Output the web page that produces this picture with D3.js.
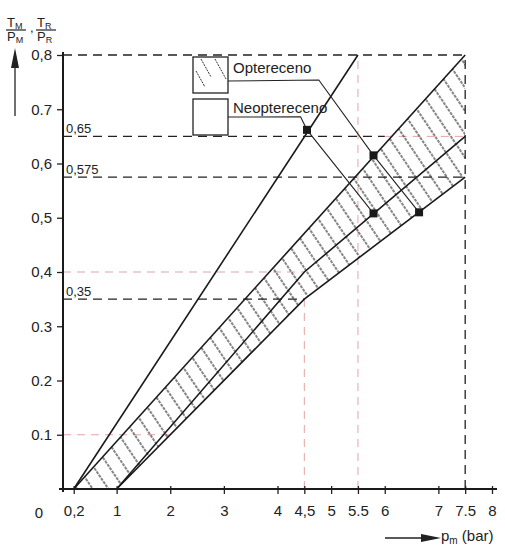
<!DOCTYPE html>
<html>
<head>
<meta charset="utf-8">
<script src="https://cdn.jsdelivr.net/npm/d3@7"></script>
<style>
body { margin: 0; background: #fff; }
text { font-family: "Liberation Sans", Arial, sans-serif; fill: #222; }
</style>
</head>
<body>
<script>
// tick values and labels as printed on the chart
var xTicks = [0.2, 1, 2, 3, 4, 4.5, 5, 5.5, 6, 7, 7.5, 8];
var xTickLabels = ["0,2", "1", "2", "3", "4", "4,5", "5", "5.5", "6", "7", "7.5", "8"];
var yTicks = [0.1, 0.2, 0.3, 0.4, 0.5, 0.6, 0.7, 0.8];
var yTickLabels = ["0.1", "0.2", "0.3", "0,4", "0,5", "0,6", "0.7", "0,8"];

// curves (p_m, T/P)
var steepLine = [[0.2, 0], [5.5, 0.8]];
var bandUpper = [[0.2, 0], [7.5, 0.8]];
var bandMiddle = [[1, 0], [4.5, 0.4], [7.5, 0.65]];
var bandLower = [[1, 0], [4.5, 0.35], [7.5, 0.575]];

// marked points and the leader lines running to them
var dots = [[4.55, 0.662], [5.79, 0.615], [5.79, 0.508], [6.64, 0.51]];
var leaderOpt = [[4.77, 0.754], [5.79, 0.615], [6.64, 0.51]];
var leaderNeo = [[4.43, 0.686], [4.55, 0.662], [5.79, 0.508]];

// reference lines: [level, from, to]
var hDashed = [[0.8, 0, 7.5], [0.65, 0, 6], [0.575, 0, 7.5], [0.35, 0, 4.5]];
var vDashed = [[7.5, 0, 0.8]];
var hPink = [[0.65, 6, 7.5], [0.4, 0, 4.5], [0.1, 0, 2]];
var vPink = [[5.5, 0, 0.8], [4.5, 0, 0.35]];
var levelLabels = [["0,65", 0.65], ["0,575", 0.575], ["0,35", 0.35]];

var legendItems = ["Optereceno", "Neoptereceno"];

var W = 505, H = 549;
var margin = {left: 63, top: 55, right: 13, bottom: 60},
    width = W - margin.left - margin.right,
    height = H - margin.top - margin.bottom;

var svg = d3.select("body").append("svg")
    .attr("width", W)
    .attr("height", H);

var defs = svg.append("defs");
var hatch = defs.append("pattern")
    .attr("id", "hatch")
    .attr("patternUnits", "userSpaceOnUse")
    .attr("width", 13)
    .attr("height", 12)
    .attr("patternTransform", "rotate(-34)");
hatch.append("line")
    .attr("x1", 3).attr("y1", 0)
    .attr("x2", 3).attr("y2", 12)
    .attr("stroke", "#222")
    .attr("stroke-width", 1.1)
    .attr("stroke-dasharray", "3,1");

var g = svg.append("g")
    .attr("transform", "translate(" + margin.left + "," + margin.top + ")");

var x = d3.scaleLinear().domain([0, 8]).range([0, width]);
var y = d3.scaleLinear().domain([0, 0.8]).range([height, 0]);

var line = d3.line().x(d => x(d[0])).y(d => y(d[1]));

// faint red construction lines
hPink.forEach(function(d) {
    g.append("line")
        .attr("x1", x(d[1])).attr("x2", x(d[2]))
        .attr("y1", y(d[0])).attr("y2", y(d[0]))
        .attr("stroke", "#e3a5a5").attr("stroke-width", 1)
        .attr("stroke-dasharray", "8,6");
});
vPink.forEach(function(d) {
    g.append("line")
        .attr("x1", x(d[0])).attr("x2", x(d[0]))
        .attr("y1", y(d[1])).attr("y2", y(d[2]))
        .attr("stroke", "#e3a5a5").attr("stroke-width", 1)
        .attr("stroke-dasharray", "8,6");
});

// black dashed levels
hDashed.forEach(function(d) {
    g.append("line")
        .attr("x1", x(d[1])).attr("x2", x(d[2]))
        .attr("y1", y(d[0])).attr("y2", y(d[0]))
        .attr("stroke", "#222").attr("stroke-width", 1.3)
        .attr("stroke-dasharray", "9,6");
});
vDashed.forEach(function(d) {
    g.append("line")
        .attr("x1", x(d[0])).attr("x2", x(d[0]))
        .attr("y1", y(d[1])).attr("y2", y(d[2]))
        .attr("stroke", "#222").attr("stroke-width", 1.3)
        .attr("stroke-dasharray", "9,6");
});

levelLabels.forEach(function(d) {
    g.append("text")
        .attr("x", 3)
        .attr("y", y(d[1]) - 3)
        .attr("font-size", 13)
        .text(d[0]);
});

// hatched band
var bandPoly = bandUpper.concat(bandLower.slice().reverse());
g.append("path")
    .attr("d", line(bandPoly) + "Z")
    .attr("fill", "url(#hatch)")
    .attr("stroke", "none");

[steepLine, bandUpper, bandMiddle, bandLower].forEach(function(l) {
    g.append("path")
        .attr("d", line(l))
        .attr("fill", "none")
        .attr("stroke", "#1a1a1a")
        .attr("stroke-width", 1.6);
});

// axes
g.append("g")
    .attr("transform", "translate(0," + height + ")")
    .call(d3.axisBottom(x).tickValues(xTicks).tickSize(5).tickPadding(11)
        .tickFormat((d, i) => xTickLabels[i]))
    .call(a => a.select(".domain").remove())
    .call(a => a.selectAll("text").attr("font-size", 15).attr("fill", "#222"))
    .call(a => a.selectAll("line").attr("y1", -3).attr("stroke", "#222").attr("stroke-width", 1.3));

g.append("g")
    .call(d3.axisLeft(y).tickValues(yTicks).tickSize(6).tickPadding(5)
        .tickFormat((d, i) => yTickLabels[i]))
    .call(a => a.select(".domain").remove())
    .call(a => a.selectAll("text").attr("font-size", 15).attr("fill", "#222"))
    .call(a => a.selectAll("line").attr("stroke", "#222").attr("stroke-width", 1.3));

g.append("line")
    .attr("x1", -4).attr("x2", width + 5)
    .attr("y1", height).attr("y2", height)
    .attr("stroke", "#1a1a1a").attr("stroke-width", 2);
g.append("line")
    .attr("x1", 0).attr("x2", 0)
    .attr("y1", height + 3).attr("y2", -3)
    .attr("stroke", "#1a1a1a").attr("stroke-width", 2);

g.append("text")
    .attr("x", -24).attr("y", height + 29)
    .attr("text-anchor", "middle")
    .attr("font-size", 15)
    .text("0");

// leader lines from legend
var boxX = 193 - margin.left, boxW = 35;
var legY = [57 - margin.top, 99 - margin.top];
var leaderStartY = [81 - margin.top, 117 - margin.top];

[leaderOpt, leaderNeo].forEach(function(l, i) {
    var pts = [[boxX + boxW, leaderStartY[i]]].concat(l.map(d => [x(d[0]), y(d[1])]));
    g.append("path")
        .attr("d", d3.line()(pts))
        .attr("fill", "none")
        .attr("stroke", "#222")
        .attr("stroke-width", 1.1);
});

g.selectAll(".dot")
    .data(dots)
    .enter().append("rect")
        .attr("class", "dot")
        .attr("x", d => x(d[0]) - 4)
        .attr("y", d => y(d[1]) - 4)
        .attr("width", 8)
        .attr("height", 8)
        .attr("fill", "#1a1a1a");

// legend boxes
var legend = g.selectAll(".legend")
    .data(legendItems)
    .enter().append("g")
        .attr("class", "legend")
        .attr("transform", (d, i) => "translate(" + boxX + "," + legY[i] + ")");
legend.append("rect")
    .attr("width", boxW)
    .attr("height", 36)
    .attr("fill", "#fff")
    .attr("stroke", "#222")
    .attr("stroke-width", 1.3);
legend.append("text")
    .attr("x", boxW + 5)
    .attr("y", (d, i) => i == 0 ? 16 : 14)
    .attr("font-size", 15)
    .text(d => d);
legend.filter((d, i) => i == 0).selectAll(".hl")
    .data([[3, 14, 12, 30], [8, 2, 18, 20], [22, 2, 33, 22]])
    .enter().append("line")
        .attr("x1", d => d[0]).attr("y1", d => d[1])
        .attr("x2", d => d[2]).attr("y2", d => d[3])
        .attr("stroke", "#333").attr("stroke-width", 1)
        .attr("stroke-dasharray", "2,1");

// y title: T_M/P_M , T_R/P_R
var title = svg.append("g");
function frac(x0, sub) {
    title.append("text").attr("x", x0).attr("y", 27).attr("font-size", 13)
        .text("T").append("tspan").attr("font-size", 9).attr("dy", 2).text(sub);
    title.append("line")
        .attr("x1", x0 - 1).attr("x2", x0 + 19)
        .attr("y1", 30).attr("y2", 30)
        .attr("stroke", "#222").attr("stroke-width", 1.2);
    title.append("text").attr("x", x0).attr("y", 41).attr("font-size", 13)
        .text("P").append("tspan").attr("font-size", 9).attr("dy", 2).text(sub);
}
frac(7, "M");
title.append("text").attr("x", 30).attr("y", 32).attr("font-size", 13).text(",");
frac(37, "R");

// up arrow for y axis
svg.append("line")
    .attr("x1", 15).attr("x2", 15)
    .attr("y1", 62).attr("y2", 116)
    .attr("stroke", "#222").attr("stroke-width", 1.3);
svg.append("path")
    .attr("d", "M15,48 L11,68 L19,68 Z")
    .attr("fill", "#222");

// x title
svg.append("line")
    .attr("x1", 385).attr("x2", 428)
    .attr("y1", 538).attr("y2", 538)
    .attr("stroke", "#222").attr("stroke-width", 1.3);
svg.append("path")
    .attr("d", "M441,538 L421,534 L421,542 Z")
    .attr("fill", "#222");
var xt = svg.append("text")
    .attr("x", 441).attr("y", 541)
    .attr("font-size", 15);
xt.append("tspan").text("p");
xt.append("tspan").attr("font-size", 10).attr("dy", 3).text("m");
xt.append("tspan").attr("dy", -3).text(" (bar)");
</script>
</body>
</html>
